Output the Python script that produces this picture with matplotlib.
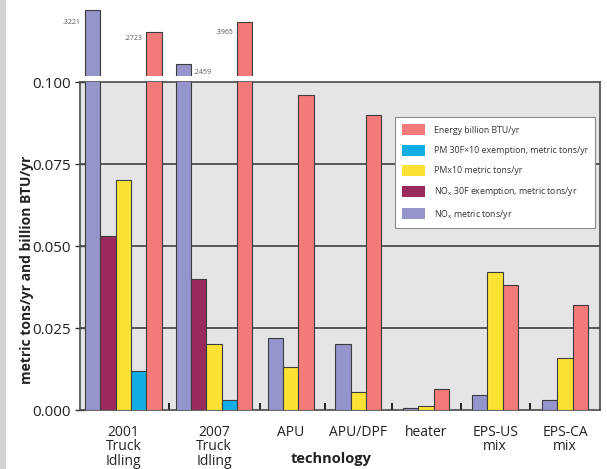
import matplotlib
matplotlib.use("Agg")
import matplotlib.pyplot as plt
from matplotlib.patches import Rectangle

plt.rcParams['font.family'] = ['Open Sans', 'DejaVu Sans']

# ---------------- data ----------------
categories = ["2001\nTruck\nIdling", "2007\nTruck\nIdling", "APU", "APU/DPF",
              "heater", "EPS-US\nmix", "EPS-CA\nmix"]
series_names = ["NOx", "NOx30F", "PM10", "PM30F", "Energy"]
nox      = [0.3221, 0.2459, 0.022, 0.020, 0.0006, 0.0045, 0.003]
nox_30f  = [0.053, 0.040, None, None, None, None, None]
pm10     = [0.070, 0.020, 0.013, 0.0055, 0.0012, 0.042, 0.016]
pm_30f   = [0.012, 0.003, None, None, None, None, None]
energy   = [0.2723, 0.3965, 0.096, 0.090, 0.0065, 0.038, 0.032]
# bar heights as drawn in the compressed upper (broken) panel, fraction of panel
upper_nox    = [0.87, 0.17]
upper_energy = [0.59, 0.71]
yticks = [0.0, 0.025, 0.05, 0.075, 0.1]

labels = {
    "Energy": "Energy billion BTU/yr",
    "PM30F": "PM 30F\u00d710 exemption, metric tons/yr",
    "PM10": "PMx10 metric tons/yr",
    "NOx30F": "NO$_\\mathregular{x}$ 30F exemption, metric tons/yr",
    "NOx": "NO$_\\mathregular{x}$ metric tons/yr",
}
colors = {"NOx": "#9594cb", "NOx30F": "#9a2a5c", "PM10": "#fde235",
          "PM30F": "#13ade5", "Energy": "#f27b79"}
data = {"NOx": nox, "NOx30F": nox_30f, "PM10": pm10, "PM30F": pm_30f, "Energy": energy}

# ---------------- layout ----------------
W, H = 607, 469
fig = plt.figure(figsize=(W / 100, H / 100), dpi=100)
fig.patches.append(Rectangle((0, 0), 6 / W, 1, transform=fig.transFigure,
                             facecolor="#d2d2d2", edgecolor="none", zorder=0))
ax = fig.add_axes([80 / W, 1 - 410 / H, 520 / W, 328 / H])
axt = fig.add_axes([80 / W, 1 - 76 / H, 520 / W, 76 / H], sharex=ax)

gaps = [0.9, 1.0, 1.4, 1.4, 1.5, 1.55]
edge = "#3c3c3c"
pos = {}  # (series, group) -> x
centers, bounds = [], []
x = 0.0
for g in range(len(categories)):
    present = [s for s in series_names if data[s][g] is not None]
    start = x
    for s in present:
        pos[(s, g)] = x
        x += 1
    centers.append((start + x - 1) / 2)
    if g < len(gaps):
        bounds.append(x - 0.5 + gaps[g] / 2)
        x += gaps[g]

handles = {}
for s in series_names:
    xs = [pos[(s, g)] for g in range(len(categories)) if (s, g) in pos]
    vs = [data[s][g] for g in range(len(categories)) if (s, g) in pos]
    handles[s] = ax.bar(xs, vs, width=1.0, color=colors[s], edgecolor=edge,
                        linewidth=0.8, zorder=3)

# upper broken panel
up_x_nox = [pos[("NOx", 0)], pos[("NOx", 1)]]
up_x_en = [pos[("Energy", 0)], pos[("Energy", 1)]]
axt.bar(up_x_nox, upper_nox, width=1.0, color=colors["NOx"], edgecolor=edge, linewidth=0.8)
axt.bar(up_x_en, upper_energy, width=1.0, color=colors["Energy"], edgecolor=edge, linewidth=0.8)
axt.set_ylim(0.02, 1.0)
axt.axis("off")
lab_kw = dict(fontsize=5, color="#555555", textcoords="offset points")
axt.annotate(f"{nox[0]:.4f}"[1:], (up_x_nox[0] - 0.5, upper_nox[0]), xytext=(-3, -9),
             ha="right", va="center", **lab_kw)
axt.annotate(f"{energy[0]:.4f}"[1:], (up_x_en[0] - 0.5, upper_energy[0]), xytext=(-3, -5),
             ha="right", va="center", **lab_kw)
axt.annotate(f"{nox[1]:.4f}"[1:], (up_x_nox[1] + 0.5, upper_nox[1]), xytext=(2, -6),
             ha="left", va="center", **lab_kw)
axt.annotate(f"{energy[1]:.4f}"[1:], (up_x_en[1] - 0.5, upper_energy[1]), xytext=(-3, -7),
             ha="right", va="center", **lab_kw)

# main axes styling
ax.set_facecolor("#e5e5e7")
ax.set_ylim(0, 0.1)
ax.set_xlim(-0.5 - 5 / 15.4, x - 1 + 0.5 + 12 / 15.4)
ax.set_yticks(yticks)
ax.set_yticklabels([f"{v:.3f}" for v in yticks], fontsize=11, color="#222222")
ax.tick_params(axis="y", direction="inout", length=7, width=1, color="#333333", pad=3)
ax.set_xticks(centers)
ax.set_xticklabels(categories, fontsize=10, color="#222222", linespacing=0.92)
ax.set_xticks(bounds, minor=True)
ax.tick_params(axis="x", which="major", length=0, pad=11)
ax.tick_params(axis="x", which="minor", direction="in", length=5, width=1.3, color="#111111")
for sp in ax.spines.values():
    sp.set_color("#4a4a4a")
    sp.set_linewidth(1.2)
ax.set_axisbelow(True)
for v in yticks[1:-1]:
    ax.axhline(v, color="#4d4d4d", linewidth=1.3, zorder=1)

order = ["Energy", "PM30F", "PM10", "NOx30F", "NOx"]
leg = ax.legend([handles[s] for s in order], [labels[s] for s in order],
                loc="upper left", bbox_to_anchor=(0.606, 0.893), fontsize=6.3,
                frameon=True, fancybox=False, edgecolor="#8a8a8a", framealpha=1,
                handlelength=2.6, handleheight=1.6, labelspacing=1.05,
                borderpad=0.8, handletextpad=1.0, borderaxespad=0)
leg.get_frame().set_linewidth(0.8)
for t in leg.get_texts():
    t.set_color("#333333")
for hnd in leg.legend_handles:
    hnd.set_edgecolor("none")
leg.set_zorder(5)

fig.text(27 / W, 1 - 270 / H, "metric tons/yr and billion BTU/yr", rotation=90,
         ha="center", va="center", fontsize=10, fontweight="bold", color="#222222")
fig.text(331 / W, 1 - 459 / H, "technology", ha="center", va="center",
         fontsize=10.5, fontweight="bold", color="#222222")

fig.savefig("out.png", dpi=100)
